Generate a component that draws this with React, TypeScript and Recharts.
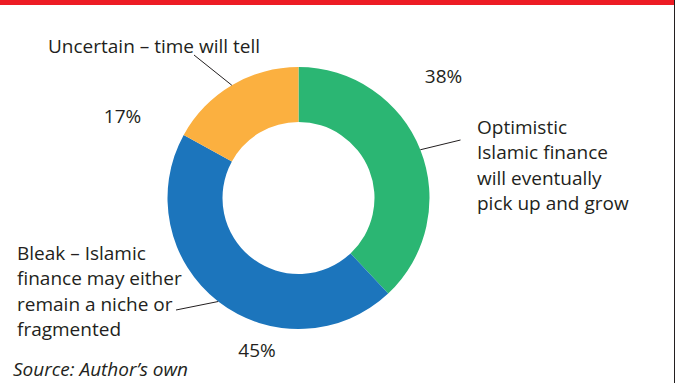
import React from "react";
import { PieChart, Pie, Cell } from "recharts";

const categories = ["Optimistic", "Bleak", "Uncertain"];
const shares = [38, 45, 17];
const labelLines = [
  ["Optimistic", "Islamic finance", "will eventually", "pick up and grow"],
  ["Bleak – Islamic", "finance may either", "remain a niche or", "fragmented"],
  ["Uncertain – time will tell"],
];
const colors = ["#2bb673", "#1c75bc", "#fbb040"];
const sourceText = "Source: Author’s own";

const W = 679;
const H = 383;
const CX = 298.5;
const CY = 198;
const FONT = "'Open Sans', sans-serif";
const TEXT_COLOR = "#231f20";
const FS = 19;
const LH = 25.3;

// layout offsets relative to pie centre
const layout = [
  { pct: [145, -115], end: [162, -58], tx: 178.5, ty: -64 },
  { pct: [-41.5, 159], end: [-122.5, 112], tx: -281.5, ty: 62 },
  { pct: [-176, -75], end: [-104.5, -143], tx: -250.5, ty: -145.5 },
];

const data = categories.map((c, i) => ({ name: c, value: shares[i] }));

const renderLabel = (props: any) => {
  const { cx, cy, midAngle, outerRadius, index, value } = props;
  const L = layout[index];
  const rad = (Math.PI / 180) * midAngle;
  const sx = cx + outerRadius * Math.cos(rad);
  const sy = cy - outerRadius * Math.sin(rad);
  return (
    <g key={`lbl-${index}`}>
      <line x1={sx} y1={sy} x2={cx + L.end[0]} y2={cy + L.end[1]} stroke="#231f20" strokeWidth={1} />
      <text x={cx + L.pct[0]} y={cy + L.pct[1]} textAnchor="middle" fontFamily={FONT} fontSize={FS} fill={TEXT_COLOR}>
        {`${value}%`}
      </text>
      <text x={cx + L.tx} y={cy + L.ty} textAnchor="start" fontFamily={FONT} fontSize={FS} fill={TEXT_COLOR}>
        {labelLines[index].map((t, j) => (
          <tspan key={j} x={cx + L.tx} y={cy + L.ty + j * LH}>
            {t}
          </tspan>
        ))}
      </text>
    </g>
  );
};

export default function App() {
  return (
    <div style={{ position: "absolute", left: 0, top: 0, width: W, height: H, background: "#fff", overflow: "hidden" }}>
      <div style={{ position: "absolute", left: 0, top: 0, width: 674, height: 5, background: "#ed1c24" }} />
      <div style={{ position: "absolute", left: 674, top: 0, width: 1, height: H, background: "#231f20" }} />
      <PieChart
        width={W}
        height={H}
        margin={{ top: 0, right: 0, bottom: 0, left: 0 }}
        style={{ position: "absolute", left: 0, top: 0 }}
      >
        <Pie
          data={data}
          dataKey="value"
          nameKey="name"
          cx={CX}
          cy={CY}
          innerRadius={76}
          outerRadius={131}
          startAngle={90}
          endAngle={-270}
          stroke="none"
          isAnimationActive={false}
          label={renderLabel}
          labelLine={false}
        >
          {data.map((d, i) => (
            <Cell key={d.name} fill={colors[i]} />
          ))}
        </Pie>
      </PieChart>
      <div
        style={{
          position: "absolute",
          left: 13,
          top: 358,
          fontFamily: FONT,
          fontStyle: "italic",
          fontSize: FS,
          color: TEXT_COLOR,
          whiteSpace: "nowrap",
          lineHeight: "22px",
        }}
      >
        {sourceText}
      </div>
    </div>
  );
}
